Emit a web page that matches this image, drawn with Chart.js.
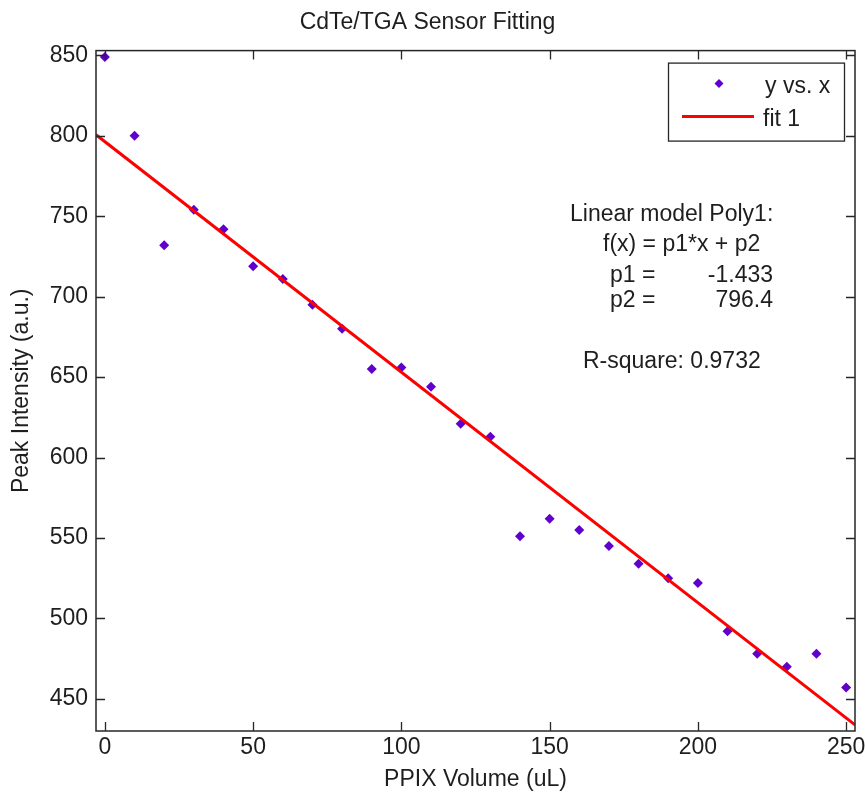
<!DOCTYPE html>
<html><head><meta charset="utf-8">
<script src="https://cdn.jsdelivr.net/npm/chart.js@4.4.0/dist/chart.umd.min.js"></script>
<style>html,body{margin:0;padding:0;background:#fff;}#wrap{width:865px;height:794px;position:relative;}</style>
</head><body><div id="wrap"><canvas id="c" width="865" height="794"></canvas></div>
<script>
// ---- data ----
const volumes = [0,10,20,30,40,50,60,70,80,90,100,110,120,130,140,150,160,170,180,190,200,210,220,230,240,250];
const intensities = [849,800,732,754,742,719,711,695,680,655,656,644,621,613,551,562,555,545,534,525,522,492,478,470,478,457];
const fitX = [-3, 253];
const fitY = [800.7, 433.8];
const xTicks = [0,50,100,150,200,250];
const yTicks = [450,500,550,600,650,700,750,800,850];
const xRange = [-3, 253];
const yRange = [430, 853];
const legendLabels = ['y vs. x', 'fit 1'];
const fitInfoLines = ['Linear model Poly1:', 'f(x) = p1*x + p2'];
const fitParams = [['p1 =', '-1.433'], ['p2 =', '796.4']];
const rSquareText = 'R-square: 0.9732';

const FONT = '"Liberation Sans", Arial, sans-serif';
const TXT = '#1e1e1e';
const AX = '#262626';
const PURPLE = '#5f00cc';
const RED = '#ff0000';

const scatterData = volumes.map((v, i) => ({x: v, y: intensities[i]}));
const fitData = fitX.map((v, i) => ({x: v, y: fitY[i]}));

function drawDiamond(ctx, x, y, r, color) {
  ctx.beginPath();
  ctx.moveTo(x, y - r); ctx.lineTo(x + r, y); ctx.lineTo(x, y + r); ctx.lineTo(x - r, y);
  ctx.closePath(); ctx.fillStyle = color; ctx.fill();
}

const framePlugin = {
  id: 'frame',
  afterDraw(chart) {
    const {ctx, chartArea: a, scales: {x, y}} = chart;
    ctx.save();
    ctx.strokeStyle = AX; ctx.lineWidth = 1.5;
    ctx.strokeRect(a.left, a.top, a.right - a.left, a.bottom - a.top);
    const tl = 9;
    ctx.lineWidth = 1.3;
    ctx.beginPath();
    xTicks.forEach(v => {
      const px = Math.round(x.getPixelForValue(v)) + 0.5;
      ctx.moveTo(px, a.bottom); ctx.lineTo(px, a.bottom - tl);
      ctx.moveTo(px, a.top); ctx.lineTo(px, a.top + tl);
    });
    yTicks.forEach(v => {
      const py = Math.round(y.getPixelForValue(v)) + 0.5;
      ctx.moveTo(a.left, py); ctx.lineTo(a.left + tl, py);
      ctx.moveTo(a.right, py); ctx.lineTo(a.right - tl, py);
    });
    ctx.stroke();

    // legend box
    const bx = a.right - 187, by = a.top + 12, bw = 176, bh = 78;
    ctx.fillStyle = '#fff'; ctx.fillRect(bx, by, bw, bh);
    ctx.strokeStyle = AX; ctx.lineWidth = 1.3; ctx.strokeRect(bx + 0.5, by + 0.5, bw, bh);
    drawDiamond(ctx, bx + 51, by + 21, 4.5, PURPLE);
    ctx.strokeStyle = RED; ctx.lineWidth = 3;
    ctx.beginPath(); ctx.moveTo(bx + 14, by + 54); ctx.lineTo(bx + 86, by + 54); ctx.stroke();
    ctx.fillStyle = TXT; ctx.font = '23px ' + FONT; ctx.textBaseline = 'middle'; ctx.textAlign = 'left';
    ctx.fillText(legendLabels[0], bx + 97, by + 24);
    ctx.fillText(legendLabels[1], bx + 95, by + 57);

    // fit annotation
    ctx.fillText(fitInfoLines[0], a.left + 474, a.top + 164);
    ctx.fillText(fitInfoLines[1], a.left + 507, a.top + 194);
    ctx.fillText(fitParams[0][0], a.left + 514, a.top + 225);
    ctx.fillText(fitParams[1][0], a.left + 514, a.top + 250);
    ctx.textAlign = 'right';
    ctx.fillText(fitParams[0][1], a.left + 677, a.top + 225);
    ctx.fillText(fitParams[1][1], a.left + 677, a.top + 250);
    ctx.textAlign = 'left';
    ctx.fillText(rSquareText, a.left + 487, a.top + 311);
    ctx.restore();
  }
};

new Chart(document.getElementById('c'), {
  type: 'scatter',
  data: {
    datasets: [
      {label: legendLabels[0], data: scatterData, pointStyle: 'rectRot', pointRadius: 5,
       backgroundColor: PURPLE, borderColor: PURPLE, borderWidth: 0, order: 2},
      {label: legendLabels[1], data: fitData, showLine: true, pointRadius: 0,
       borderColor: RED, borderWidth: 3, order: 1}
    ]
  },
  options: {
    responsive: false, animation: false, devicePixelRatio: 1,
    layout: {padding: {top: 0, right: 10, left: 0, bottom: 0}},
    plugins: {
      legend: {display: false}, tooltip: {enabled: false},
      title: {display: true, text: 'CdTe/TGA Sensor Fitting', color: TXT,
        font: {family: FONT, size: 23, weight: 'normal'}, padding: {top: 9, bottom: 14}}
    },
    scales: {
      x: {type: 'linear', min: xRange[0], max: xRange[1],
        grid: {display: false, drawTicks: false}, border: {display: false},
        afterBuildTicks: s => { s.ticks = xTicks.map(v => ({value: v})); },
        afterFit: s => { s.height = 63; s.paddingLeft = 0; s.paddingRight = 0; },
        ticks: {color: TXT, font: {family: FONT, size: 23}, padding: 3, maxRotation: 0, autoSkip: false},
        title: {display: true, text: 'PPIX Volume (uL)', color: TXT, font: {family: FONT, size: 23}, padding: {top: 0, bottom: 1}}
      },
      y: {type: 'linear', min: yRange[0], max: yRange[1],
        grid: {display: false, drawTicks: false}, border: {display: false},
        afterBuildTicks: s => { s.ticks = yTicks.map(v => ({value: v})); },
        afterFit: s => { s.width = 96; s.paddingTop = 0; s.paddingBottom = 0; },
        ticks: {color: TXT, font: {family: FONT, size: 23}, padding: 8, autoSkip: false},
        title: {display: true, text: 'Peak Intensity (a.u.)', color: TXT, font: {family: FONT, size: 23}, padding: {top: 8, bottom: 0}}
      }
    }
  },
  plugins: [framePlugin]
});
</script></body></html>
